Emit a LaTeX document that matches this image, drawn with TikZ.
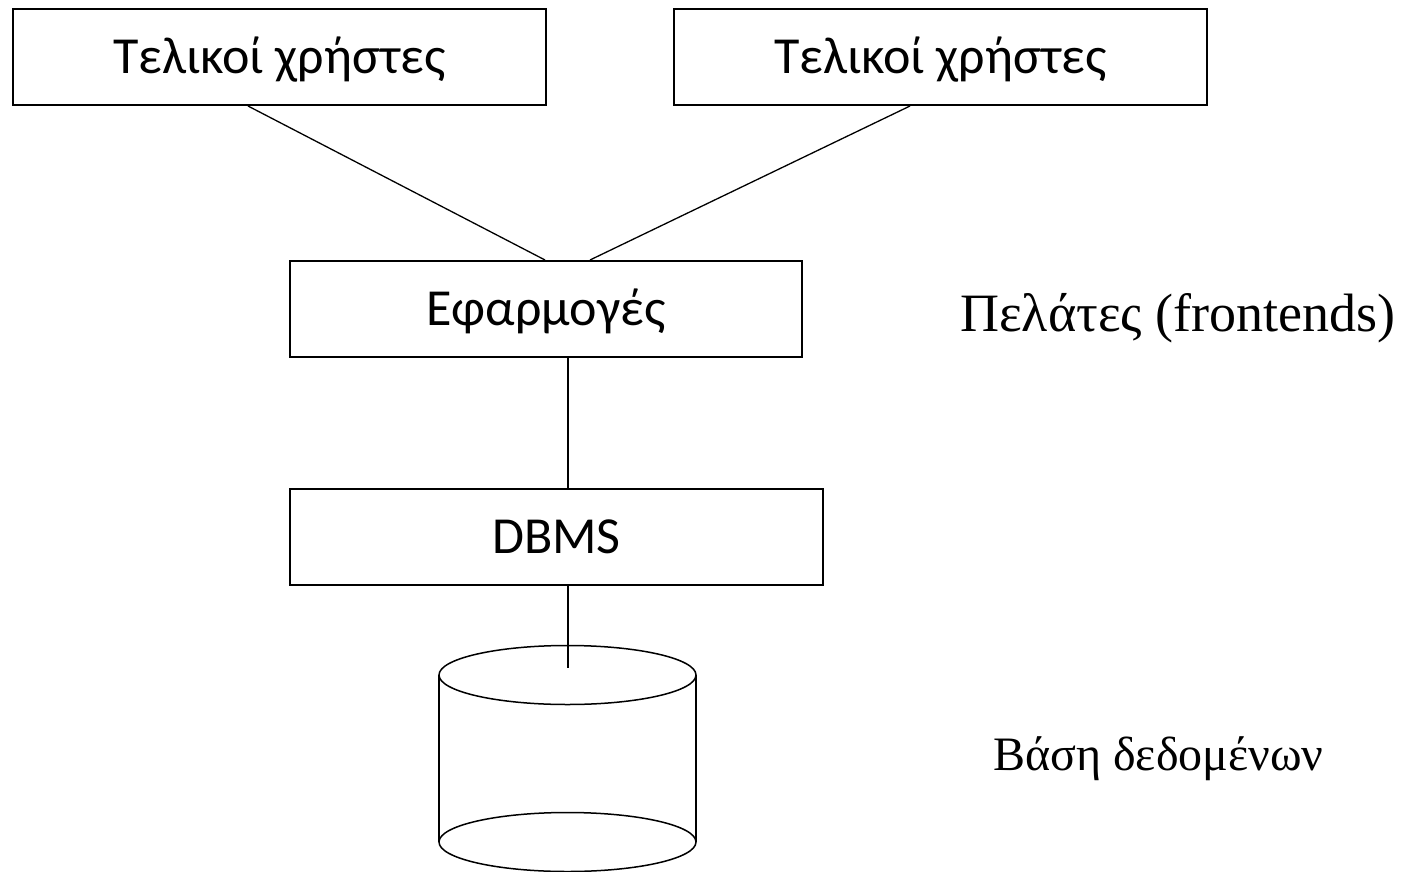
\documentclass[tikz,border=0pt]{standalone}
\usepackage{fontspec}
\setmainfont{Liberation Serif}
\newfontfamily\boxfont{Carlito}
\usetikzlibrary{calc}
\begin{document}
\begin{tikzpicture}[x=1pt,y=-1pt,
  tier/.style={draw,line width=2pt,minimum height=96pt,inner sep=0pt,
    font=\boxfont\fontsize{52}{62}\selectfont,text height=33pt,text depth=0pt},
  link/.style={line width=1.3pt},
  side/.style={anchor=base west,inner sep=0pt}]
  \useasboundingbox (0,0) rectangle (1405,872);

  % end users
  \node[tier,minimum width=533pt] (u1) at (279.5,57) {Τελικοί χρήστες};
  \node[tier,minimum width=533pt] (u2) at (940.5,57) {Τελικοί χρήστες};

  % applications and DBMS
  \node[tier,minimum width=512pt] (app) at (546,309) {Εφαρμογές};
  \node[tier,minimum width=533pt] (dbms) at (556.5,537) {DBMS};

  % database cylinder
  \coordinate (dbtop) at (568,668);
  \draw[line width=1.5pt] (567.5,675) ellipse [x radius=128.5,y radius=29.5];
  \draw[line width=1.5pt] (567.5,842) ellipse [x radius=128.5,y radius=29.5];
  \draw[line width=1.5pt] (439,675) -- (439,842) (696,675) -- (696,842);

  % connectors
  \draw[link] ($(u1.south)+(-31.5,0)$) -- ($(app.north)+(-1,0)$);
  \draw[link] ($(u2.south)+(-30.5,0)$) -- ($(app.north)+(44,0)$);
  \draw[link] ($(app.south)+(22,0)$) -- ($(dbms.north)+(11.5,0)$);
  \draw[link] ($(dbms.south)+(11.5,0)$) -- (dbtop);

  % side labels
  \node[side,font=\fontsize{54}{64}\selectfont] (clients) at (960,331) {Πελάτες (frontends)};
  \node[side,font=\fontsize{48}{58}\selectfont] (dbase) at (993,770) {Βάση δεδομένων};
\end{tikzpicture}
\end{document}
